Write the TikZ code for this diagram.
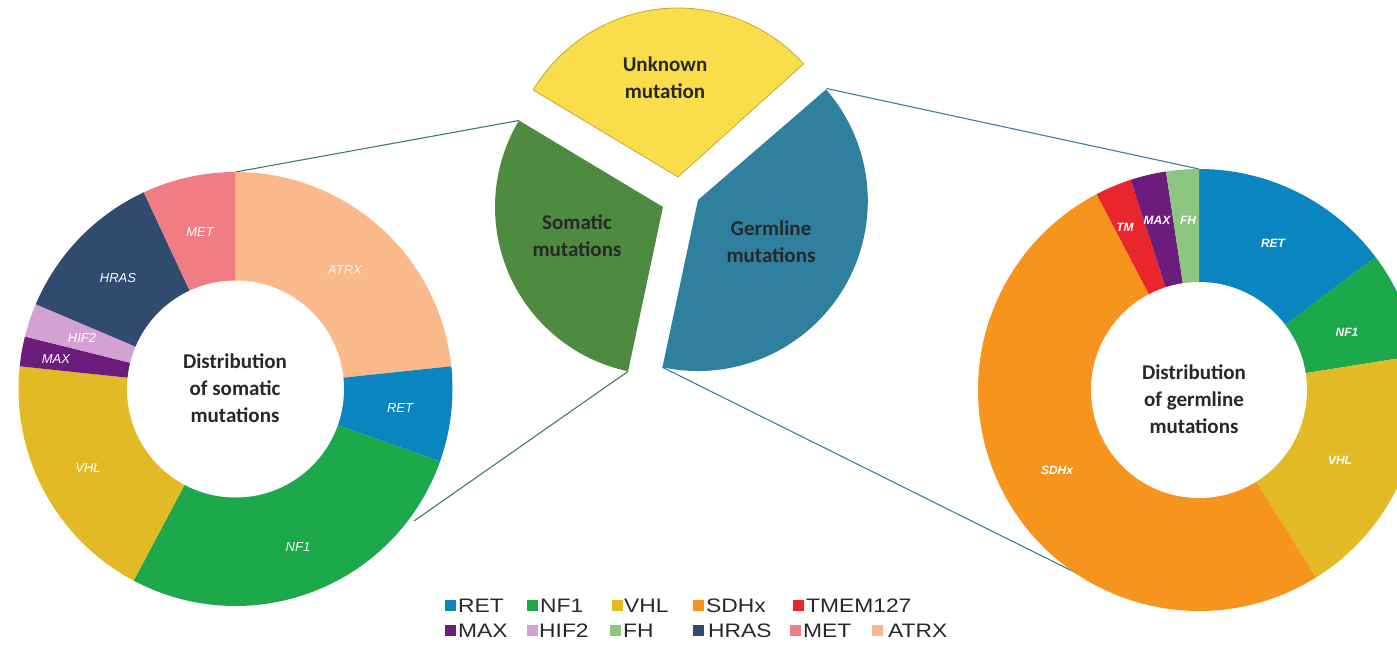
\documentclass[tikz,border=0pt]{standalone}
\usepackage{fontspec}
\setmainfont{Carlito}
\newfontfamily\helv{Liberation Sans}
\newfontfamily\legfont[FakeStretch=1.17]{Liberation Sans}
\usetikzlibrary{calc}

% gene colours
\definecolor{cRET}{HTML}{0B85C0}
\definecolor{cNF}{HTML}{1DA84B}
\definecolor{cVHL}{HTML}{E2BA26}
\definecolor{cSDH}{HTML}{F7941E}
\definecolor{cTM}{HTML}{E8262B}
\definecolor{cMAX}{HTML}{6B1C7C}
\definecolor{cHIF}{HTML}{D4A1D2}
\definecolor{cFH}{HTML}{8DC77F}
\definecolor{cHRAS}{HTML}{304B6D}
\definecolor{cMET}{HTML}{F07C84}
\definecolor{cATRX}{HTML}{F9B98B}
% overview sectors
\definecolor{secY}{HTML}{FADD4B}
\definecolor{secYline}{HTML}{C8A830}
\definecolor{secG}{HTML}{4E8A3F}
\definecolor{secB}{HTML}{2F7F9E}
\definecolor{lineG}{HTML}{3F7C64}
\definecolor{lineB}{HTML}{3A7EA2}
\definecolor{txt}{HTML}{282828}

\tikzset{
  seglab/.style={text=white, inner sep=0, font=\helv\itshape\fontsize{13}{13}\selectfont},
  seglabb/.style={text=white, inner sep=0, font=\helv\bfseries\itshape\fontsize{12}{12}\selectfont},
  title/.style={text=txt, align=center, inner sep=0, font=\bfseries\fontsize{21}{27}\selectfont},
  link/.style={line width=1.1pt},
  legsq/.style={minimum size=10.5pt, inner sep=0, anchor=south west},
  legtxt/.style={text=txt, inner sep=0, anchor=base west, font=\legfont\fontsize{19.5}{19.5}\selectfont},
}

\begin{document}
\begin{tikzpicture}[x=1pt,y=1pt]
\useasboundingbox (0,0) rectangle (1397,-650);
\clip (0,0) rectangle (1397,-650);

% centres and key points
\coordinate (L) at (235.5,-389);
\coordinate (R) at (1199,-390);
\coordinate (ya) at (678,-177);
\coordinate (ga) at (663,-207);
\coordinate (ba) at (698,-200);
\coordinate (gTop) at ($(ga)+(149:168)$);
\coordinate (gBot) at ($(ga)+(258:168)$);
\coordinate (bTop) at ($(ba)+(41:170)$);
\coordinate (bBot) at ($(ba)+(-102:171)$);
\coordinate (LTop) at ($(L)+(90:217)$);
\coordinate (LPt) at ($(L)+(-36.5:222)$);
\coordinate (RTop) at ($(R)+(90:221)$);
\coordinate (RPt) at ($(R)+(237:220)$);

% connectors from the overview to the two donuts
\draw[link, lineG] (gTop) -- (LTop);
\draw[link, lineG] (gBot) -- (LPt);
\draw[link, lineB] (bTop) -- (RTop);
\draw[link, lineB] (bBot) -- (RPt);

% overview sectors
\filldraw[fill=secY, draw=secYline, line width=0.8pt] (ya) -- ++(42:169) arc[start angle=42, end angle=149, radius=169] -- cycle;
\fill[secG] (ga) -- ++(149:168) arc[start angle=149, end angle=258, radius=168] -- cycle;
\fill[secB] (ba) -- ++(-102:171) arc[start angle=-102, end angle=41, radius=170] -- cycle;
\node[title] (unk) at (665,-78) {Unknown\\mutation};
\node[title] (som) at (577,-236) {Somatic\\mutations};
\node[title] (ger) at (771,-242) {Germline\\mutations};

% donut of somatic mutations
\foreach \a/\b/\c in {90/6/cATRX, 6/-19.5/cRET, -19.5/-118/cNF, -118/-186/cVHL,
                      -186/-194/cMAX, -194/-203/cHIF, -203/-245/cHRAS, -245/-270/cMET}{
  \fill[\c] (L) -- ++(\a:217) arc[start angle=\a, end angle=\b, radius=217] -- cycle;
}
\fill[white] (L) circle[radius=108.5];
\node[title] (dsom) at (235,-388) {Distribution\\of somatic\\mutations};
\node[seglab] (lMET) at (200,-232) {MET};
\node[seglab, opacity=0.85] (lATRX) at (345,-270) {ATRX};
\node[seglab] (lHRAS) at (118,-278) {HRAS};
\node[seglab] (lHIF) at (82,-338) {HIF2};
\node[seglab] (lMAX) at (56,-359) {MAX};
\node[seglab] (lRET) at (400,-408) {RET};
\node[seglab] (lVHL) at (88,-468) {VHL};
\node[seglab] (lNF) at (298,-547) {NF1};

% donut of germline mutations
\foreach \a/\b/\c in {90/37/cRET, 37/9/cNF, 9/-58/cVHL, -58/-242.4/cSDH,
                      -242.4/-252/cTM, -252/-261.4/cMAX, -261.4/-270/cFH}{
  \fill[\c] (R) -- ++(\a:221) arc[start angle=\a, end angle=\b, radius=221] -- cycle;
}
\fill[white] (R) circle[radius=108];
\node[title] (dger) at (1194,-399) {Distribution\\of germline\\mutations};
\node[seglabb] (rRET) at (1273,-243) {RET};
\node[seglabb] (rNF) at (1347,-332) {NF1};
\node[seglabb] (rVHL) at (1340,-460) {VHL};
\node[seglabb] (rSDH) at (1057,-470) {SDHx};
\node[seglabb] (rTM) at (1125,-227) {TM};
\node[seglabb] (rMAX) at (1157,-220) {MAX};
\node[seglabb] (rFH) at (1188,-220) {FH};

% legend
\foreach \x/\tx/\c/\t [count=\i] in {445/458/cRET/RET, 527/540/cNF/NF1, 612/624/cVHL/VHL,
                      693/706/cSDH/SDHx, 793/806/cTM/TMEM127}{
  \node[legsq, fill=\c] (sqa\i) at (\x,-611) {};
  \node[legtxt] (tla\i) at (\tx,-612) {\t};
}
\foreach \x/\tx/\c/\t [count=\i] in {445/458/cMAX/MAX, 527/539/cHIF/HIF2, 610/623/cFH/FH,
                      693/708/cHRAS/HRAS, 790/803/cMET/MET, 872/888/cATRX/ATRX}{
  \node[legsq, fill=\c] (sqb\i) at (\x,-636) {};
  \node[legtxt] (tlb\i) at (\tx,-637) {\t};
}
\end{tikzpicture}
\end{document}
